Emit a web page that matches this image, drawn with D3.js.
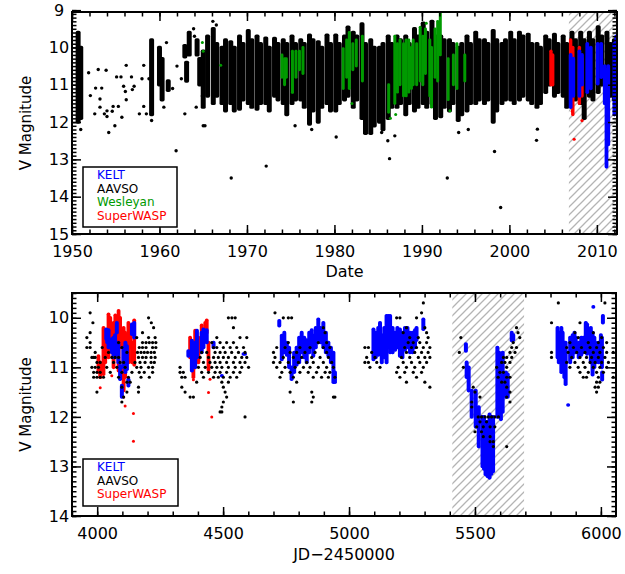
<!DOCTYPE html>
<html>
<head>
<meta charset="utf-8">
<script src="https://cdn.jsdelivr.net/npm/d3@7"></script>
<style>
  body { margin: 0; background: #fff; }
  text { font-family: "DejaVu Sans", sans-serif; }
</style>
</head>
<body>
<script>
// ---- top panel data (year, magnitude) ----
var topYears = [1950, 1960, 1970, 1980, 1990, 2000, 2010];
var topMags = [9, 10, 11, 12, 13, 14, 15];
var topHatch = [2006.8, 2012.3];

// AAVSO single estimates
var aavsoTopPts = [[1951.9,10.68],[1952.1,11.29],[1952.6,11.78],[1953.0,10.59],[1952.7,11.09],[1953.2,11.38],
  [1953.4,11.09],[1953.2,11.6],[1953.7,11.78],[1953.9,10.61],[1954.0,11.85],[1954.2,12.28],[1954.0,11.7],
  [1954.6,11.71],[1954.7,11.58],[1954.9,12.1],[1955.1,10.79],[1955.3,11.58],[1955.6,10.79],[1955.7,11.87],
  [1955.9,11.04],[1956.1,11.18],[1956.2,11.4],[1956.2,10.48],[1956.8,10.79],[1956.9,11.13],[1957.1,11.04],
  [1957.7,11.78],[1958.2,10.48],[1958.2,11.58],[1958.0,10.84],[1958.5,11.78],[1958.8,10.84],[1959.1,11.96],
  [1960.8,9.87],[1961.9,12.77],[1962.0,10.5],[1962.5,10.84],[1963.9,9.5],[1964.0,9.7],[1964.2,11.6],
  [1965.0,12.1],[1965.2,12.1],[1951.0,12.2],[1960.5,11.6],[1961.5,11.1],[1964.9,11.3],[1962.9,11.78],
  [1968.2,13.5],[1972.2,13.18],[1975.5,12.1],[1977.4,12.2],[1980.2,12.4],[1985.4,12.28],[1986.1,12.5],
  [1986.3,12.98],[1986.9,12.37],[1992.9,13.5],[1994.2,12.28],[1995.3,12.2],[1998.3,12.79],[1999.0,14.29],
  [2003.1,12.49],[2003.2,12.19],[1966.1,9.3],[1966.5,9.4]];

// AAVSO dense seasons: [year, brightest, faintest]
var aavsoTopCols = [[1950.7,9.6,12.0],[1951.0,10.0,11.9],[1959.1,9.8,11.8],[1960.0,10.0,11.0],[1960.3,10.3,11.4],
  [1961.0,10.9,11.15],[1962.9,9.95,10.25],[1963.1,10.4,10.9],[1963.4,9.6,10.2],[1964.3,9.8,10.2],[1964.6,10.3,11.0],
  [1965.0,10.1,11.6],[1965.5,9.7,11.3],
  [1966.15,9.5,11.5],[1966.55,9.9,11.3],[1967.15,10.0,11.5],[1967.55,9.8,11.7],[1968.15,9.85,11.5],[1968.55,10.0,11.7],
  [1969.15,9.7,11.65],[1969.55,9.9,11.4],[1970.15,9.55,11.5],[1970.55,9.8,11.6],[1971.15,9.7,11.65],[1971.55,9.9,11.5],
  [1972.15,9.75,11.5],[1972.55,10.0,11.7],[1973.15,9.76,11.3],[1973.55,9.9,11.4],[1974.15,9.8,11.5],[1974.55,9.9,11.8],
  [1975.15,9.7,11.5],[1975.55,9.9,11.4],[1976.15,9.8,11.4],[1976.55,9.9,11.6],[1977.15,9.67,12.05],[1977.55,9.8,11.7],
  [1978.15,9.85,12.0],[1978.55,10.0,11.6],[1979.15,9.67,11.5],[1979.55,9.9,11.7],[1980.15,9.67,11.7],[1980.55,9.9,11.5],
  [1981.15,9.7,11.4],[1981.55,9.46,11.3],[1982.15,9.6,11.6],[1982.55,9.7,11.4],[1983.15,9.37,11.9],[1983.55,9.9,12.3],
  [1984.15,9.8,12.3],[1984.55,10.0,12.1],[1985.15,10.0,12.0],[1985.55,9.9,12.2],[1986.15,9.7,11.9],[1986.55,9.9,11.6],
  [1987.15,9.7,11.6],[1987.55,9.8,11.5],[1988.15,9.7,11.8],[1988.55,9.9,11.5],[1989.15,9.5,11.7],[1989.55,9.7,11.6],
  [1990.15,9.35,11.5],[1990.55,9.6,11.6],[1991.15,9.3,11.5],[1991.55,9.7,11.9],[1992.15,9.7,11.85],[1992.55,9.8,11.6],
  [1993.15,9.8,11.7],[1993.55,9.9,11.5],[1994.15,10.0,11.95],[1994.55,9.9,11.8],[1995.15,9.7,11.7],[1995.55,9.9,11.5],
  [1996.15,9.6,11.5],[1996.55,9.8,11.4],[1997.15,9.8,11.5],[1997.55,9.9,11.4],[1998.15,9.55,12.0],[1998.55,9.8,11.7],
  [1999.15,9.9,11.5],[1999.55,9.8,11.4],[2000.15,9.6,11.4],[2000.55,9.8,11.5],[2001.15,9.6,11.4],[2001.55,9.7,11.3],
  [2002.15,9.65,11.4],[2002.55,9.9,11.5],[2003.15,9.9,11.6],[2003.55,10.0,11.5],[2004.15,9.7,11.2],[2004.55,9.8,11.0],
  [2005.15,9.65,11.3],[2005.55,9.9,11.2],[2006.15,9.7,11.3],[2006.55,9.9,11.6],[2007.15,9.6,11.3],[2007.55,9.8,11.4],
  [2008.15,9.6,11.5],[2008.55,9.8,11.9],[2009.15,9.6,11.3],[2009.55,9.8,11.4],[2010.15,9.45,11.2],[2010.55,9.7,11.0],
  [2011.15,9.6,11.5],[2011.55,9.9,11.3],[2012.0,9.8,11.4]];

var wesleyanCols = [[1974.0,10.2,10.8],[1974.3,10.3,11.0],[1974.5,10.3,10.8],[1975.2,10.1,11.2],[1975.6,10.1,10.8],
  [1976.0,10.1,10.6],[1976.4,10.0,10.7],[1981.0,10.03,11.1],[1981.4,9.8,10.8],[1981.7,9.6,11.1],[1982.1,9.9,10.6],
  [1982.5,9.8,10.5],[1983.2,9.7,10.9],[1986.2,11.0,11.74],[1986.9,9.7,11.5],[1987.2,9.9,11.2],[1987.5,9.8,11.0],
  [1987.9,9.9,11.3],[1988.2,9.8,11.3],[1988.5,9.8,11.2],[1988.8,10.0,11.1],[1989.0,9.8,11.0],[1989.4,9.9,11.0],
  [1989.8,9.5,10.9],[1990.1,9.7,11.0],[1990.4,9.5,10.7],[1990.9,9.8,11.3],[1991.1,10.0,11.6],[1991.5,9.5,10.8],
  [1991.8,9.3,10.9],[1992.1,9.04,10.2],[1993.0,10.3,11.4],[1993.6,10.2,11.0],[1994.0,9.9,11.1],[1994.9,10.2,10.9]];
var wesleyanPts = [[1964.9,9.87],[1965.0,10.1],[1967.0,10.48],[1975.2,11.2],[1986.4,11.9],[1987.0,11.8],
  [1989.8,9.46],[1990.5,9.35],[1993.2,11.7],[1982.0,11.5]];

var swaspTopCols = [[2004.75,10.1,11.0],[2004.95,10.2,11.0],[2007.0,9.8,11.4],[2007.25,10.0,11.8],[2008.0,10.0,11.5],[2008.3,10.3,11.3]];
var swaspTopPts = [[2007.2,11.71],[2007.4,12.46],[2008.3,11.96]];

var keltTopCols = [[2007.0,10.2,11.6],[2007.3,10.3,11.3],[2008.0,10.1,11.3],[2008.3,10.2,11.0],[2008.9,9.9,11.2],
  [2009.3,10.0,11.1],[2010.1,9.9,10.97],[2010.5,9.9,10.8],[2010.9,10.5,11.5],[2011.1,10.6,13.2],[2011.3,10.5,12.6],
  [2012.0,9.9,11.8],[2012.2,9.7,11.5]];

// ---- bottom panel data (JD-2450000, magnitude) ----
var botJD = [4000, 4500, 5000, 5500, 6000];
var botMags = [10, 11, 12, 13, 14];
var botHatch = [5410, 5695];

// AAVSO visual estimates, grouped by magnitude row: [mag, [JDs...]]
var aavsoBotRows = [
  [9.7,[5295,5831,6016]],[9.9,[3972,4706,5288]],
  [10.0,[4204,4521,4535,4548,4739,4759,4772,5189,5202,5268]],
  [10.1,[3983,4215,5804,5917]],[10.2,[4224,4541,4898,5228,5301,5665]],
  [10.3,[3972,4180,4905,5215,5308,5671,5897,5970]],
  [10.4,[3959,4157,4204,4230,4475,4567,4594,5241,5275,5314,5444,5678,5910,6003]],
  [10.5,[3972,4085,4180,4194,4207,4220,4233,4455,4488,4514,4541,4759,4878,4911,5235,5255,5281,5308,5652,5877,5950,5990,6023]],
  [10.6,[3959,3972,4020,4098,4167,4180,4194,4220,4233,4462,4475,4501,4528,4554,4581,4713,4746,4805,4845,4898,4924,
    5063,5077,5221,5248,5268,5295,5321,5646,5665,5864,5891,5923,5957,5983,6010]],
  [10.7,[3992,4045,4118,4160,4174,4187,4200,4214,4227,4415,4435,4468,4488,4508,4534,4561,4587,4700,4766,4792,4825,
    4865,4911,5090,5228,5261,5288,5314,5438,5639,5659,5804,5870,5904,5937,5970,5996,6023,6049]],
  [10.8,[3979,3986,3992,4032,4058,4071,4085,4164,4180,4194,4214,4230,4409,4442,4462,4481,4501,4521,4548,4574,4594,
    4706,4739,4779,4812,4852,4885,4918,5070,5103,5208,5241,5275,5301,5321,5613,5626,5646,5804,5884,5917,5943,5963,5990,6016]],
  [10.9,[3999,4012,4065,4091,4105,4150,4170,4190,4214,4227,4422,4448,4468,4488,4514,4541,4567,4587,4700,4726,4759,
    4799,4832,4858,4898,4931,5063,5077,5110,5215,5248,5281,5308,5606,5619,5639,5864,5897,5930,5957,5977,6003,6030]],
  [11.0,[3979,3992,4005,4038,4078,4111,4157,4174,4204,4220,4329,4402,4429,4455,4475,4495,4521,4548,4574,4601,4713,
    4746,4786,4819,4845,4878,4911,4938,5083,5123,5195,5228,5261,5295,5454,5586,5626,5877,5910,5937,5970,5996,6023]],
  [11.1,[3986,3999,4012,4052,4098,4138,4167,4187,4220,4329,4342,4415,4442,4468,4488,4514,4541,4567,4733,4766,4805,
    4838,4871,4905,4924,5189,5221,5255,5288,5599,5613,5917,5950,5983,6010]],
  [11.2,[3986,3999,4012,4025,4085,4124,4174,4207,4336,4349,4422,4462,4481,4501,4528,4554,4726,4779,4858,4891,4918,
    4944,5202,5268,5592,5626,5639,5930,5943,5990,6049]],
  [11.3,[4118,4131,4395,4495,4521,4792,5228,5301,5606,5619,5983,5996]],
  [11.4,[4098,4164,4336,4501,5321,5493,5626,5977,5990]],
  [11.5,[3999,4118,4164,4349,4508,4766,4852,5500,5639,5983]],
  [11.6,[4105,4369,4382,4514,4858,4938,4944,5520,5626]],
  [11.7,[4098,4501,4779,4852,5487,5639]],[11.8,[4495,5487]],[11.9,[4488,4495]],
  [12.0,[4587,5513,5526,5540,5553,5566,5579,5593]],[12.1,[5520,5546]],[12.2,[5507,5533,5560,5579]],
  [12.3,[5500,5526]],[12.4,[5533,5560]],[12.5,[5560,5573]],[12.6,[5573,5626]]];

var keltBotCols = [[4036,10.23,10.43],[4040,10.3,10.5],[4045,10.25,10.6],[4058,10.43,10.7],[4065,10.4,10.8],
  [4071,10.35,10.8],[4078,10.1,10.3],[4084,10.5,10.9],[4091,10.97,11.24],[4098,11.37,11.6],[4104,10.6,11.0],
  [4112,10.5,11.1],[4118,10.57,11.04],[4124,11.24,11.37],[4138,10.13,10.33],[4147,10.1,10.4],
  [4362,10.67,10.77],[4376,10.46,11.07],[4389,10.5,11.0],[4396,10.26,10.8],[4415,10.3,10.7],[4422,10.23,10.6],
  [4435,10.25,10.5],[4462,10.5,10.6],[4495,11.17,11.17],[4581,10.73,10.73],[4587,10.73,10.73],
  [4723,10.06,10.16],[4733,10.36,10.84],[4743,10.3,10.7],[4753,10.5,10.75],[4762,10.6,11.0],[4772,11.0,11.24],
  [4782,10.7,11.1],[4792,10.6,10.95],[4802,10.4,10.9],[4812,10.3,10.7],[4822,10.4,10.8],[4832,10.45,10.9],
  [4842,10.3,10.7],[4852,10.25,10.6],[4858,10.36,10.77],[4868,10.2,10.6],[4878,10.03,10.5],[4888,10.2,10.5],
  [4898,10.1,10.6],[4908,10.3,10.7],[4918,10.5,10.77],[4928,10.6,10.9],[4938,10.7,11.3],[4944,11.1,11.3],
  [5097,10.23,10.84],[5106,10.3,10.8],[5116,10.2,10.75],[5123,10.1,10.7],[5130,10.35,10.9],[5140,10.2,10.8],
  [5149,9.96,10.9],[5156,9.96,10.6],[5163,9.96,10.7],[5173,10.2,10.7],[5183,10.3,10.65],[5192,10.2,10.6],
  [5202,10.23,10.77],[5212,10.3,10.8],[5222,10.2,10.65],[5232,10.2,10.6],[5242,10.3,10.7],[5252,10.3,10.7],
  [5262,10.25,10.6],[5268,10.2,10.45],[5295,10.03,10.23],
  [5464,10.53,10.67],[5467,10.9,11.2],[5475,11.0,11.47],[5487,11.47,12.0],[5503,11.47,12.2],
  [5515,11.8,12.6],[5530,12.0,13.0],[5536,12.0,13.05],[5542,12.1,13.16],[5550,12.1,13.2],
  [5558,11.95,13.23],[5565,12.0,13.15],[5572,12.0,13.1],[5589,10.6,12.0],[5596,10.7,11.8],
  [5603,10.9,12.05],[5610,10.7,11.9],[5623,11.1,11.6],[5630,11.14,11.6],
  [5646,10.3,10.46],[5652,10.35,10.45],
  [5828,10.2,10.8],[5833,10.3,10.9],[5838,10.3,10.6],[5843,10.2,11.1],[5848,10.3,11.0],[5855,10.5,11.2],
  [5860,10.5,11.34],[5870,11.76,11.76],[5878,10.4,10.9],[5888,10.35,10.8],[5895,10.3,10.7],[5900,10.4,10.7],
  [5912,10.5,10.8],[5922,10.4,10.75],[5930,10.4,10.7],[5940,10.1,10.6],[5945,10.13,10.73],[5952,10.3,10.6],
  [5960,10.2,10.9],[5967,10.3,11.15],[5974,10.4,11.0],[5978,10.5,10.9],[5990,10.5,10.9],[6000,10.35,10.9],
  [6004,10.4,11.0],[6008,9.96,10.1],[6005,11.1,11.25],[5970,9.78,9.78]];

var swaspBotCols = [[4005,10.77,11.1],[4012,10.9,11.2],[4025,10.2,11.14],[4032,10.4,10.9],[4045,9.93,10.8],
  [4052,10.0,10.6],[4065,10.1,11.0],[4072,9.95,10.7],[4085,9.86,11.07],[4091,10.0,10.6],[4105,10.2,11.47],
  [4111,10.3,11.2],[4124,10.1,10.9],[4131,10.2,10.6],[4138,10.5,10.9],[4147,10.05,10.95],
  [4369,10.4,10.8],[4382,10.5,11.2],[4389,10.26,11.0],[4402,10.4,10.9],[4415,10.15,10.5],[4429,10.1,10.4],
  [4435,10.05,10.3],[4442,10.5,11.05]];
var swaspBotPts = [[4012,11.2],[4012,11.41],[4058,11.17],[4111,11.78],[4105,11.6],[4144,11.93],[4144,12.49],
  [4442,11.51],[4455,12.0],[4448,11.24],[4382,11.25]];

var legendTop = ["KELT", "AAVSO", "Wesleyan", "SuperWASP"];
var legendTopColors = ["#0000ff", "#000000", "#009a00", "#ff0000"];
var legendBot = ["KELT", "AAVSO", "SuperWASP"];
var legendBotColors = ["#0000ff", "#000000", "#ff0000"];

var width = 625, height = 574;
var svg = d3.select("body").append("svg").attr("width", width).attr("height", height);

var defs = svg.append("defs");
defs.append("pattern").attr("id", "hatch").attr("patternUnits", "userSpaceOnUse")
    .attr("width", 8).attr("height", 8)
  .append("path").attr("d", "M-2,2L2,-2M0,8L8,0M6,10L10,6")
    .attr("stroke", "#b4b4b4").attr("stroke-width", 1.3);

function cols(g, data, x, y, color, w, r) {
  g.append("g").selectAll("rect").data(data).enter().append("rect")
    .attr("x", function(d) { return x(d[0]) - w / 2; })
    .attr("y", function(d) { return y(d[1]) - r; })
    .attr("width", w)
    .attr("height", function(d) { return y(d[2]) - y(d[1]) + 2 * r; })
    .attr("rx", r)
    .attr("fill", color);
}

function dots(g, data, x, y, color, r) {
  g.append("g").selectAll("circle").data(data).enter().append("circle")
    .attr("cx", function(d) { return x(d[0]); })
    .attr("cy", function(d) { return y(d[1]); })
    .attr("r", r)
    .attr("fill", color);
}

function panel(o) {
  var x = d3.scaleLinear().domain(o.xDomain).range([o.left, o.right]);
  var y = d3.scaleLinear().domain(o.yDomain).range([o.top, o.bottom]);

  defs.append("clipPath").attr("id", o.id).append("rect")
    .attr("x", o.left).attr("y", o.top).attr("width", o.right - o.left).attr("height", o.bottom - o.top);

  var plot = svg.append("g").attr("clip-path", "url(#" + o.id + ")");
  plot.append("rect")
    .attr("x", x(o.hatch[0])).attr("y", o.top)
    .attr("width", x(o.hatch[1]) - x(o.hatch[0])).attr("height", o.bottom - o.top)
    .attr("fill", "url(#hatch)");
  o.draw(plot, x, y);

  // axes, ticks inward on all four sides
  function style(a) {
    a.select(".domain").remove();
    a.selectAll("line").attr("stroke", "#000").attr("stroke-width", 1.5);
    a.selectAll("text").attr("font-size", 16).attr("fill", "#000").attr("font-family", "DejaVu Sans");
  }
  var none = function() { return ""; };
  svg.append("g").attr("transform", "translate(0," + o.bottom + ")")
    .call(d3.axisBottom(x).tickValues(o.xMinor).tickSize(-4.5).tickFormat(none)).call(style);
  svg.append("g").attr("transform", "translate(0," + o.bottom + ")")
    .call(d3.axisBottom(x).tickValues(o.xTicks).tickSize(-9).tickPadding(12).tickFormat(d3.format("d"))).call(style);
  svg.append("g").attr("transform", "translate(0," + o.top + ")")
    .call(d3.axisTop(x).tickValues(o.xMinor).tickSize(-4.5).tickFormat(none)).call(style);
  svg.append("g").attr("transform", "translate(0," + o.top + ")")
    .call(d3.axisTop(x).tickValues(o.xTicks).tickSize(-9).tickFormat(none)).call(style);
  svg.append("g").attr("transform", "translate(" + o.left + ",0)")
    .call(d3.axisLeft(y).tickValues(o.yMinor).tickSize(-4.5).tickFormat(none)).call(style);
  var yl = svg.append("g").attr("transform", "translate(" + o.left + ",0)")
    .call(d3.axisLeft(y).tickValues(o.yTicks).tickSize(-9).tickPadding(13).tickFormat(d3.format("d"))).call(style);
  yl.selectAll("text").attr("text-anchor", "middle");
  svg.append("g").attr("transform", "translate(" + o.right + ",0)")
    .call(d3.axisRight(y).tickValues(o.yMinor).tickSize(-4.5).tickFormat(none)).call(style);
  svg.append("g").attr("transform", "translate(" + o.right + ",0)")
    .call(d3.axisRight(y).tickValues(o.yTicks).tickSize(-9).tickFormat(none)).call(style);

  svg.append("rect")
    .attr("x", o.left).attr("y", o.top).attr("width", o.right - o.left).attr("height", o.bottom - o.top)
    .attr("fill", "none").attr("stroke", "#000").attr("stroke-width", 2);

  svg.append("text").attr("x", (o.left + o.right) / 2).attr("y", o.xLabelY)
    .attr("text-anchor", "middle").attr("font-size", 16).text(o.xLabel);
  svg.append("text")
    .attr("transform", "translate(31," + (o.top + o.bottom) / 2 + ") rotate(-90)")
    .attr("text-anchor", "middle").attr("font-size", 15).text("V Magnitude");

  // legend
  var lg = svg.append("g");
  lg.append("rect").attr("x", o.legend[0]).attr("y", o.legend[1]).attr("width", o.legend[2]).attr("height", o.legend[3])
    .attr("fill", "#fff").attr("stroke", "#000").attr("stroke-width", 1.5);
  lg.selectAll("text").data(o.names).enter().append("text")
    .attr("x", o.legend[0] + 14)
    .attr("y", function(d, i) { return o.legend[1] + 12 + i * 13.5; })
    .attr("font-size", 12)
    .attr("fill", function(d, i) { return o.colors[i]; })
    .text(function(d) { return d; });
}

var dotR = 1.7;

panel({
  id: "clipTop", left: 72, right: 617, top: 12, bottom: 234,
  xDomain: [1950, 2012.3], yDomain: [9.05, 15],
  xTicks: topYears, xMinor: d3.range(1950, 2013, 2),
  yTicks: topMags, yMinor: d3.range(90, 151).map(function(v) { return v / 10; }),
  hatch: topHatch, xLabel: "Date", xLabelY: 277,
  legend: [83, 167, 94, 60], names: legendTop, colors: legendTopColors,
  draw: function(g, x, y) {
    cols(g, aavsoTopCols, x, y, "#000", 5, dotR);
    dots(g, aavsoTopPts, x, y, "#000", dotR);
    cols(g, wesleyanCols, x, y, "#009a00", 3, 1.4);
    dots(g, wesleyanPts, x, y, "#009a00", 1.5);
    cols(g, swaspTopCols, x, y, "#ff0000", 3.4, 1.7);
    dots(g, swaspTopPts, x, y, "#ff0000", 1.6);
    cols(g, keltTopCols, x, y, "#0000ff", 3.8, 1.8);
  }
});

var aavsoBotPts = [];
aavsoBotRows.forEach(function(r) { r[1].forEach(function(jd) { aavsoBotPts.push([jd, r[0]]); }); });

panel({
  id: "clipBot", left: 72, right: 616, top: 293, bottom: 516,
  xDomain: [3900, 6060], yDomain: [9.5, 14],
  xTicks: botJD, xMinor: d3.range(3900, 6061, 100),
  yTicks: botMags, yMinor: d3.range(95, 141).map(function(v) { return v / 10; }),
  hatch: botHatch, xLabel: "JD\u22122450000", xLabelY: 560,
  legend: [83, 459, 95, 47], names: legendBot, colors: legendBotColors,
  draw: function(g, x, y) {
    cols(g, swaspBotCols, x, y, "#ff0000", 3.8, 1.8);
    dots(g, swaspBotPts, x, y, "#ff0000", 1.5);
    cols(g, keltBotCols, x, y, "#0000ff", 4, 1.8);
    dots(g, aavsoBotPts, x, y, "#000", 1.6);
  }
});
</script>
</body>
</html>
